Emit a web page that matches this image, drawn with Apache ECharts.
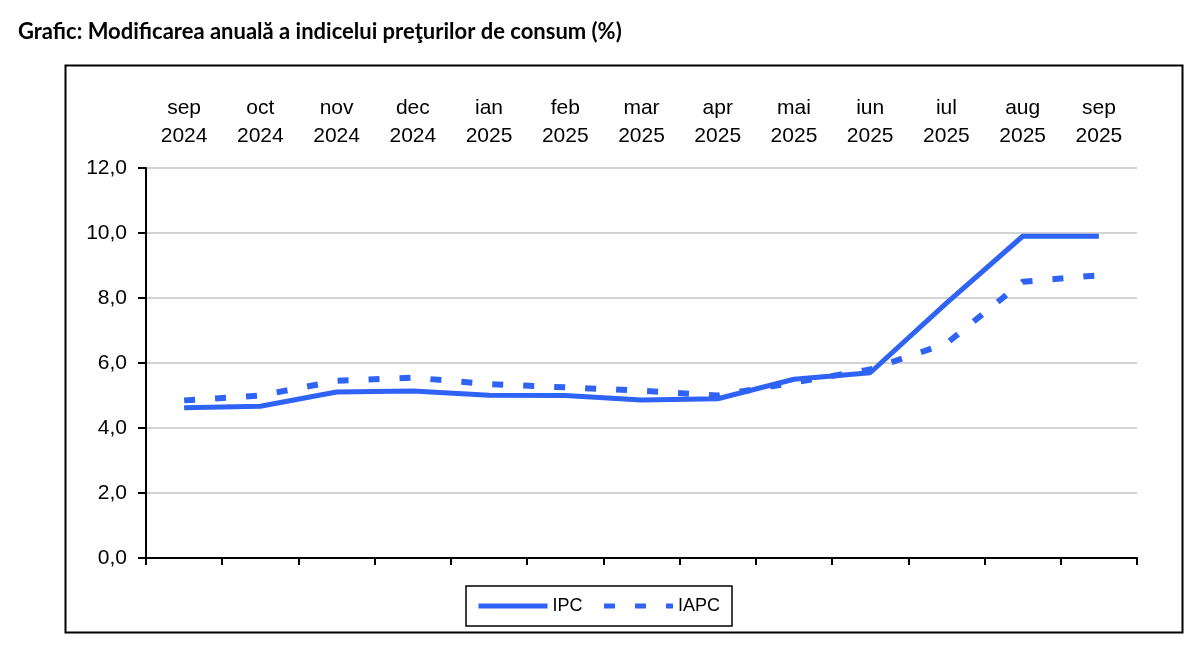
<!DOCTYPE html>
<html>
<head>
<meta charset="utf-8">
<script src="https://cdn.jsdelivr.net/npm/echarts@6/dist/echarts.min.js"></script>
<style>
html,body{margin:0;padding:0;background:#fff;}
#chart{width:1200px;height:652px;}
</style>
</head>
<body>
<div id="chart"></div>
<script>
const months = ['sep','oct','nov','dec','ian','feb','mar','apr','mai','iun','iul','aug','sep'];
const years  = ['2024','2024','2024','2024','2025','2025','2025','2025','2025','2025','2025','2025','2025'];
const ipc  = [4.62, 4.67, 5.11, 5.14, 5.01, 5.00, 4.86, 4.90, 5.50, 5.70, 7.84, 9.90, 9.90];
const iapc = [4.85, 5.0, 5.45, 5.55, 5.35, 5.25, 5.15, 5.0, 5.4, 5.8, 6.6, 8.5, 8.7];
const yTicks = {min: 0, max: 12, interval: 2};

const categories = months.map((m, i) => m + '\n' + years[i]);
const blue = '#2f63f5';

const chart = echarts.init(document.getElementById('chart'), null, {renderer: 'canvas'});
chart.setOption({
  animation: false,
  backgroundColor: '#fff',
  title: {
    text: 'Grafic: Modificarea anuală a indicelui preţurilor de consum (%)',
    left: 13, top: 16,
    textStyle: {fontFamily: 'Lato', fontWeight: 'bold', fontSize: 22, color: '#000'}
  },
  graphic: [{
    type: 'rect', left: 63, top: 63,
    shape: {width: 1117, height: 567},
    style: {fill: 'none', stroke: '#000', lineWidth: 2},
    z: -1
  }],
  grid: {left: 146, right: 63, top: 168, bottom: 94, containLabel: false},
  legend: {
    left: 466, top: 586,
    padding: [11, 12, 11, 10],
    borderColor: '#000', borderWidth: 1.5,
    itemWidth: 69, itemHeight: 14, itemGap: 19, itemTextGap: 11,
    itemStyle: {opacity: 0},
    lineStyle: {width: 5},
    textStyle: {fontFamily: 'Liberation Sans', fontSize: 18, color: '#000'},
    data: ['IPC', 'IAPC']
  },
  xAxis: [{
    type: 'category', data: categories, position: 'bottom',
    boundaryGap: true,
    axisLine: {lineStyle: {color: '#000', width: 2}},
    axisTick: {show: true, alignWithLabel: false, length: 7, lineStyle: {color: '#000', width: 2}},
    axisLabel: {show: false},
    splitLine: {show: false}
  }, {
    type: 'category', data: categories, position: 'top',
    boundaryGap: true,
    axisLine: {show: false},
    axisTick: {show: false},
    axisLabel: {
      show: true, margin: 18, interval: 0,
      fontFamily: 'Liberation Sans', fontSize: 21, lineHeight: 28, color: '#000', align: 'center'
    },
    splitLine: {show: false}
  }],
  yAxis: {
    type: 'value', min: yTicks.min, max: yTicks.max, interval: yTicks.interval,
    axisLine: {show: true, lineStyle: {color: '#000', width: 2}},
    axisTick: {show: true, length: 8, lineStyle: {color: '#000', width: 2}},
    axisLabel: {
      margin: 19, fontFamily: 'Liberation Sans', fontSize: 21, color: '#000',
      formatter: v => v.toFixed(1).replace('.', ',')
    },
    splitLine: {show: true, lineStyle: {color: '#c4c4c4', width: 1.5}}
  },
  series: [{
    name: 'IPC', type: 'line', data: ipc, xAxisIndex: 0,
    symbol: 'none', showSymbol: false,
    lineStyle: {color: blue, width: 5, cap: 'butt'},
    itemStyle: {color: blue},
    z: 3
  }, {
    name: 'IAPC', type: 'line', data: iapc, xAxisIndex: 0,
    symbol: 'none', showSymbol: false,
    lineStyle: {color: blue, width: 6, type: [11, 20], cap: 'butt'},
    itemStyle: {color: blue},
    z: 2
  }]
});
</script>
</body>
</html>
